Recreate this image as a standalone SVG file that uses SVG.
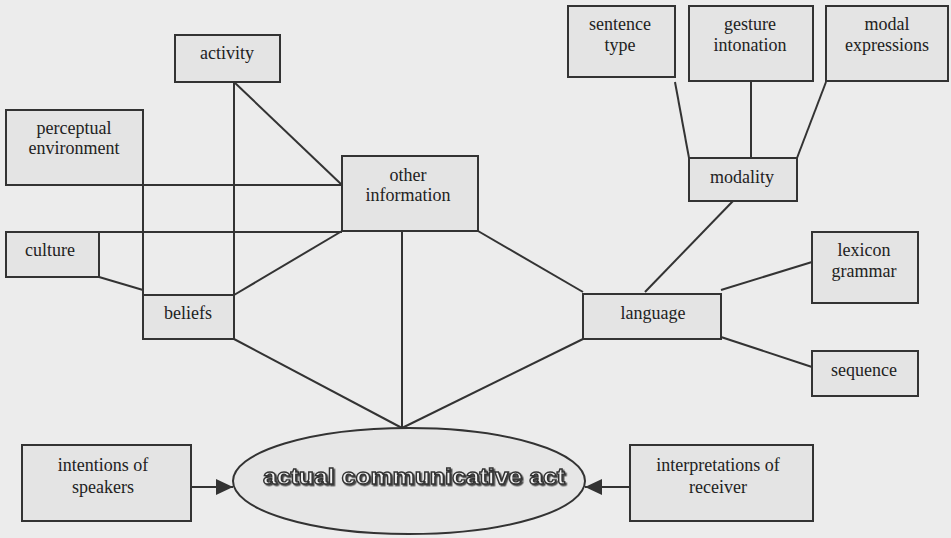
<svg xmlns="http://www.w3.org/2000/svg" width="951" height="538" viewBox="0 0 951 538">
<defs>
<marker id="arr" markerUnits="userSpaceOnUse" markerWidth="18" markerHeight="16" refX="17" refY="8" orient="auto">
<path d="M0,0 L17,8 L0,16 Z" fill="#333"/>
</marker>
<filter id="sh" x="-5%" y="-30%" width="110%" height="160%">
<feDropShadow dx="1.5" dy="1.5" stdDeviation="0.3" flood-color="#444" flood-opacity="1"/>
</filter>
</defs>
<style>
.box{fill:#e4e4e4;stroke:#333;stroke-width:2}
.t{font-family:'Liberation Serif','DejaVu Serif',serif;font-size:18px;fill:#222;text-anchor:middle}
.ln{stroke:#333;stroke-width:2;fill:none}
.big{font-family:'Liberation Sans','DejaVu Sans',sans-serif;font-weight:bold;font-size:22px;text-anchor:middle}
</style>
<rect x="0" y="0" width="951" height="538" fill="#ececec"/>
<g id="connectors">
<line class="ln" x1="234" y1="82" x2="342" y2="185"/>
<line class="ln" x1="234" y1="82" x2="234" y2="295"/>
<line class="ln" x1="143" y1="185" x2="342" y2="185"/>
<line class="ln" x1="143" y1="185" x2="143" y2="295"/>
<line class="ln" x1="99" y1="232" x2="342" y2="232"/>
<line class="ln" x1="99" y1="277" x2="143" y2="290"/>
<line class="ln" x1="234" y1="295" x2="342" y2="231"/>
<line class="ln" x1="402" y1="231" x2="402" y2="428"/>
<line class="ln" x1="234" y1="339" x2="402" y2="428"/>
<line class="ln" x1="478" y1="231" x2="583" y2="292"/>
<line class="ln" x1="583" y1="339" x2="402" y2="428"/>
<line class="ln" x1="733" y1="201" x2="645" y2="292"/>
<line class="ln" x1="675" y1="82" x2="689" y2="158"/>
<line class="ln" x1="751" y1="81" x2="751" y2="158"/>
<line class="ln" x1="826" y1="82" x2="797" y2="158"/>
<line class="ln" x1="812" y1="262" x2="721" y2="290"/>
<line class="ln" x1="812" y1="367" x2="721" y2="337"/>
<line class="ln" x1="191" y1="487" x2="233" y2="487" marker-end="url(#arr)"/>
<line class="ln" x1="630" y1="487" x2="585" y2="487" marker-end="url(#arr)"/>
</g>
<g id="activity"><rect class="box" x="175" y="35" width="105" height="47"/><text class="t" x="227" y="59">activity</text></g>
<g id="perceptual"><rect class="box" x="6" y="110" width="137" height="75"/><text class="t" x="74" y="134">perceptual</text><text class="t" x="74" y="154">environment</text></g>
<g id="other"><rect class="box" x="342" y="156" width="136" height="75"/><text class="t" x="408" y="181">other</text><text class="t" x="408" y="201">information</text></g>
<g id="culture"><rect class="box" x="6" y="232" width="93" height="45"/><text class="t" x="50" y="256">culture</text></g>
<g id="beliefs"><rect class="box" x="143" y="295" width="91" height="44"/><text class="t" x="188" y="319">beliefs</text></g>
<g id="sentence"><rect class="box" x="568" y="6" width="107" height="71"/><text class="t" x="620" y="30">sentence</text><text class="t" x="620" y="51">type</text></g>
<g id="gesture"><rect class="box" x="689" y="6" width="124" height="75"/><text class="t" x="750" y="30">gesture</text><text class="t" x="750" y="51">intonation</text></g>
<g id="modal"><rect class="box" x="826" y="6" width="122" height="75"/><text class="t" x="887" y="30">modal</text><text class="t" x="887" y="51">expressions</text></g>
<g id="modality"><rect class="box" x="689" y="158" width="108" height="43"/><text class="t" x="742" y="183">modality</text></g>
<g id="lexicon"><rect class="box" x="812" y="232" width="106" height="71"/><text class="t" x="864" y="256">lexicon</text><text class="t" x="864" y="277">grammar</text></g>
<g id="language"><rect class="box" x="583" y="294" width="138" height="45"/><text class="t" x="653" y="319">language</text></g>
<g id="sequence"><rect class="box" x="812" y="351" width="106" height="45"/><text class="t" x="864" y="376">sequence</text></g>
<g id="intentions"><rect class="box" x="22" y="445" width="169" height="76"/><text class="t" x="103" y="471">intentions of</text><text class="t" x="103" y="493">speakers</text></g>
<g id="interpretations"><rect class="box" x="630" y="445" width="183" height="76"/><text class="t" x="718" y="471">interpretations of</text><text class="t" x="718" y="493">receiver</text></g>
<g id="act">
<ellipse cx="409" cy="481" rx="176" ry="53" fill="#e6e6e6" stroke="#333" stroke-width="2"/>
<text class="big" x="414" y="484" textLength="302" lengthAdjust="spacingAndGlyphs" fill="#f2f2f2" stroke="#333" stroke-width="1.3" filter="url(#sh)">actual communicative act</text>
</g>
</svg>
